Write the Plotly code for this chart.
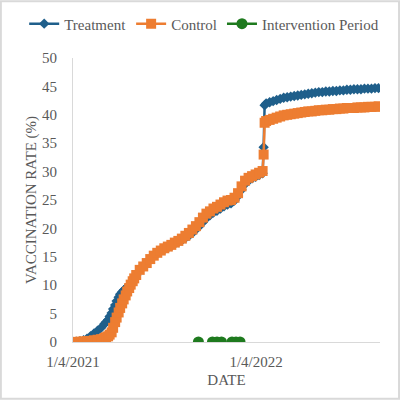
import plotly.graph_objects as go

# weekly dates (twice a week on the steep spring stretch),
# plus two extra days around the jump in January 2022
dates = [
    "2021-01-04", "2021-01-11", "2021-01-18", "2021-01-25",
    "2021-02-01", "2021-02-08", "2021-02-15", "2021-02-22",
    "2021-03-01", "2021-03-08", "2021-03-11", "2021-03-15", "2021-03-18",
    "2021-03-22", "2021-03-25", "2021-03-29", "2021-04-01",
    "2021-04-05", "2021-04-08", "2021-04-12", "2021-04-15",
    "2021-04-19", "2021-04-22", "2021-04-26", "2021-04-29",
    "2021-05-03", "2021-05-06", "2021-05-10", "2021-05-17", "2021-05-24",
    "2021-05-31",
    "2021-06-07", "2021-06-14", "2021-06-21", "2021-06-28",
    "2021-07-05", "2021-07-12", "2021-07-19", "2021-07-26",
    "2021-08-02", "2021-08-09", "2021-08-16", "2021-08-23", "2021-08-30",
    "2021-09-06", "2021-09-13", "2021-09-20", "2021-09-27",
    "2021-10-04", "2021-10-11", "2021-10-18", "2021-10-25",
    "2021-11-01", "2021-11-08", "2021-11-15", "2021-11-22", "2021-11-29",
    "2021-12-06", "2021-12-13", "2021-12-20", "2021-12-27",
    "2022-01-03", "2022-01-10", "2022-01-17", "2022-01-19", "2022-01-21",
    "2022-01-24", "2022-01-31",
    "2022-02-07", "2022-02-14", "2022-02-21", "2022-02-28",
    "2022-03-07", "2022-03-14", "2022-03-21", "2022-03-28",
    "2022-04-04", "2022-04-11", "2022-04-18", "2022-04-25",
    "2022-05-02", "2022-05-09", "2022-05-16", "2022-05-23", "2022-05-30",
    "2022-06-06", "2022-06-13", "2022-06-20", "2022-06-27",
    "2022-07-04", "2022-07-11", "2022-07-18", "2022-07-25",
    "2022-08-01", "2022-08-08", "2022-08-15", "2022-08-22", "2022-08-29",
    "2022-09-05",
]

treatment = [
    0, 0.05, 0.15, 0.3,
    0.6, 1.0, 1.5, 2.0,
    2.5, 3.2, 3.5, 3.9, 4.5,
    5.1, 5.8, 6.5, 7.2,
    7.9, 8.4, 8.8, 9.1,
    9.4, 9.7, 10.0, 10.3,
    10.7, 11.2, 11.7, 12.6, 13.3,
    13.9,
    14.5, 15.1, 15.6, 16.0,
    16.3, 16.6, 16.9, 17.3,
    17.6, 17.9, 18.3, 18.7, 19.2,
    19.8, 20.4, 21.1, 21.8,
    22.3, 22.8, 23.1, 23.5,
    23.9, 24.2, 24.4, 24.9, 25.7,
    26.8, 27.8, 28.4, 28.8,
    29.1, 29.4, 29.7, 34.3, 41.7,
    42.0, 42.2,
    42.4, 42.6, 42.8, 43.0,
    43.1, 43.2, 43.3, 43.4,
    43.5, 43.6, 43.7, 43.8,
    43.9, 44.0, 44.0, 44.1, 44.1,
    44.2, 44.2, 44.3, 44.3,
    44.4, 44.4, 44.5, 44.5,
    44.5, 44.6, 44.6, 44.6, 44.7,
    44.7,
]

control = [
    0, 0.02, 0.05, 0.1,
    0.15, 0.2, 0.3, 0.4,
    0.5, 0.7, 0.85, 1.0, 1.3,
    1.7, 2.5, 3.5, 4.3,
    5.2, 6.0, 6.8, 7.5,
    8.2, 8.9, 9.5, 10.1,
    10.7, 11.2, 11.8, 12.7, 13.3,
    13.9,
    14.6, 15.2, 15.7, 16.1,
    16.5, 16.8, 17.1, 17.5,
    17.8, 18.2, 18.7, 19.2, 19.8,
    20.4, 21.1, 21.9, 22.6,
    23.0, 23.5, 23.8, 24.2,
    24.6, 24.9, 25.0, 25.4, 26.2,
    27.4, 28.4, 28.9, 29.2,
    29.5, 29.8, 30.1, 33.0, 38.6,
    38.9, 39.1,
    39.3, 39.5, 39.7, 39.9,
    40.0, 40.1, 40.2, 40.3,
    40.4, 40.5, 40.6, 40.6,
    40.7, 40.8, 40.8, 40.9, 40.9,
    41.0, 41.0, 41.1, 41.1,
    41.2, 41.2, 41.2, 41.3,
    41.3, 41.3, 41.4, 41.4, 41.4,
    41.5,
]

# intervention markers sit on the x axis; None breaks the connecting line
intervention_dates = ["2021-09-11", None, "2021-10-09", "2021-10-18",
                      "2021-10-27", None, "2021-11-17", "2021-11-25",
                      "2021-12-03"]
intervention = [0, None, 0, 0, 0, None, 0, 0, 0]

tick_dates = ["2021-01-04", "2022-01-04"]
tick_labels = ["1/4/2021", "1/4/2022"]

BLUE = "#1F5F8B"
ORANGE = "#ED7D31"
GREEN = "#1E7A1E"
TEXT = "#595959"
FONT = "Liberation Serif"

fig = go.Figure()

fig.add_trace(go.Scatter(
    x=dates, y=treatment, name="Treatment", mode="lines+markers",
    line=dict(color=BLUE, width=2.5),
    marker=dict(symbol="diamond", size=8, color=BLUE),
))
fig.add_trace(go.Scatter(
    x=dates, y=control, name="Control", mode="lines+markers",
    line=dict(color=ORANGE, width=2.5),
    marker=dict(symbol="square", size=10, color=ORANGE),
))
fig.add_trace(go.Scatter(
    x=intervention_dates, y=intervention, name="Intervention Period",
    mode="lines+markers", connectgaps=False,
    line=dict(color=GREEN, width=2.5),
    marker=dict(symbol="circle", size=11, color=GREEN),
))

fig.update_layout(
    width=400, height=400,
    margin=dict(l=73, r=20, t=58, b=58, autoexpand=False),
    paper_bgcolor="white", plot_bgcolor="white",
    font=dict(family=FONT, size=15, color=TEXT),
    showlegend=True,
    legend=dict(orientation="h", x=-0.159, xanchor="left", y=1.12,
                yanchor="middle", font=dict(size=15, color=TEXT),
                itemwidth=30, tracegroupgap=0, borderwidth=0),
    xaxis=dict(
        type="date", range=["2021-01-04", "2022-09-08"],
        tickvals=tick_dates, ticktext=tick_labels,
        showgrid=False, zeroline=False, showline=True, automargin=False,
        linecolor="#D9D9D9", linewidth=1, ticks="",
        ticklabelstandoff=6,
        title=dict(text="DATE", font=dict(size=15, color=TEXT), standoff=5),
    ),
    yaxis=dict(
        range=[0, 50], dtick=5, showgrid=False, zeroline=False,
        showline=True, linecolor="#D9D9D9", linewidth=1, ticks="",
        ticklabelstandoff=12, automargin=False,
        title=dict(text="VACCINATION RATE (%)", font=dict(size=15, color=TEXT),
                   standoff=1),
    ),
    shapes=[dict(type="rect", xref="paper", yref="paper",
                 x0=-0.235, x1=1.062, y0=-0.2, y1=1.2,
                 line=dict(color="#D9D9D9", width=2), layer="below")],
)

# drop the default page margin so the figure sits at the window corner
fig.write_html("out.html", config={"displayModeBar": False},
               post_script="document.body.style.margin = '0';")
